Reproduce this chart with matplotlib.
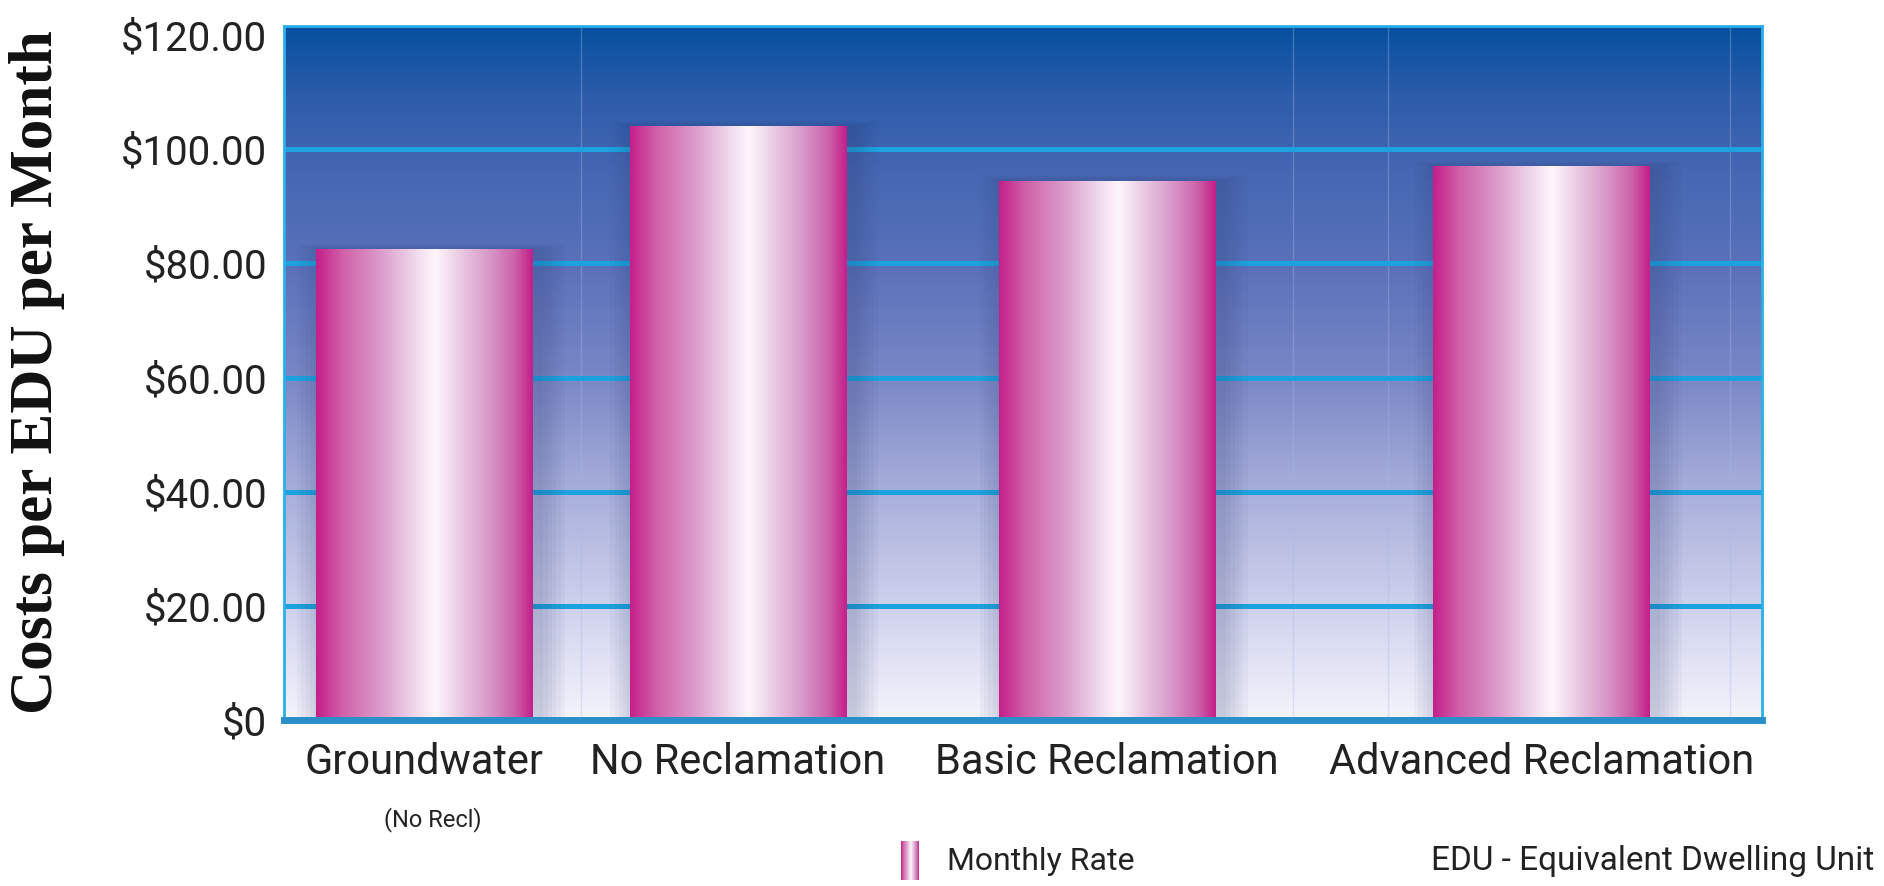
import numpy as np
import matplotlib
matplotlib.use("Agg")
import matplotlib.pyplot as plt
from matplotlib.colors import LinearSegmentedColormap
from matplotlib.patches import Rectangle

categories = ["Groundwater", "No Reclamation", "Basic Reclamation", "Advanced Reclamation"]
monthly_rate = [82.5, 104.0, 94.5, 97.0]
y_ticks = [0, 20, 40, 60, 80, 100, 120]
y_tick_labels = ["$0", "$20.00", "$40.00", "$60.00", "$80.00", "$100.00", "$120.00"]

# layout (bar centres are not evenly spaced in the original)
positions = [0.65, 2.10, 3.81, 5.82]
bar_width = 1.0

sans = ["Roboto", "DejaVu Sans"]
serif = ["Liberation Serif", "DejaVu Serif"]

bg_cmap = LinearSegmentedColormap.from_list("bg", [
    (0.0, "#f4f4fc"), (0.15, "#d2d4ee"), (0.35, "#a2aad8"), (0.5, "#7886c6"),
    (0.65, "#5a72ba"), (0.8, "#4466b2"), (0.9, "#2c5caa"), (1.0, "#0650a0")])
bar_cmap = LinearSegmentedColormap.from_list("bar", [
    (0.0, "#c41f8a"), (0.12, "#d060a8"), (0.3, "#dc9ccb"), (0.45, "#eed6ea"),
    (0.55, "#fff6fd"), (0.65, "#ecd0e6"), (0.8, "#d898c8"), (0.92, "#cc60a8"),
    (1.0, "#c41f8a")])

fig = plt.figure(figsize=(18.84, 8.86), dpi=100)
ax = fig.add_axes([0.1507, 0.1874, 0.7845, 0.7833])
xmin, xmax = 0, 6.84
ymin, ymax = 0, 121.6
ax.set_xlim(xmin, xmax)
ax.set_ylim(ymin, ymax)

# background gradient
grad = np.linspace(0, 1, 256).reshape(-1, 1)
ax.imshow(grad, cmap=bg_cmap, aspect="auto", origin="lower",
          extent=[xmin, xmax, ymin, ymax], zorder=0)

# faint vertical lines
for xv in [1.375, 4.67, 5.11, 6.69]:
    ax.axvline(xv, color="#a8b8e8", lw=1, alpha=0.35, zorder=1)

# gridlines
for yv in y_ticks[1:-1]:
    ax.axhline(yv, color="#1ca3df", lw=3.6, zorder=2)

bars = ax.bar(positions, monthly_rate, width=bar_width, color="none", zorder=4)

hgrad = np.linspace(0, 1, 256).reshape(1, -1)
for rect in bars:
    x0, w, h = rect.get_x(), rect.get_width(), rect.get_height()
    # soft shadow
    for k in range(1, 7):
        d = 0.02 * k
        ax.add_patch(Rectangle((x0 - d + 0.03, 0), w + 2 * d, h + d * 8,
                               facecolor="#303a70", edgecolor="none",
                               alpha=0.04, zorder=3))
    im = ax.imshow(hgrad, cmap=bar_cmap, aspect="auto",
                   extent=[x0, x0 + w, 0, h], zorder=5)
    im.set_clip_path(rect)

ax.set_xlim(xmin, xmax)
ax.set_ylim(ymin, ymax)

for s in ["left", "right", "top"]:
    ax.spines[s].set_color("#2ab0e8")
    ax.spines[s].set_linewidth(2)
ax.spines["bottom"].set_color("#2a8fc8")
ax.spines["bottom"].set_linewidth(5)
ax.spines["bottom"].set_zorder(6)

ax.set_yticks(y_ticks, y_tick_labels, fontfamily=sans, fontsize=29, color="#222222")
ax.set_xticks(positions, categories, fontfamily=sans, fontsize=30, color="#222222")
ax.tick_params(axis="y", length=0, pad=12)
ax.tick_params(axis="x", length=0, pad=16)

ax.text(positions[0] + 0.04, -17.5, "(No Recl)", ha="center", va="center",
        fontfamily=sans, fontsize=17, color="#222222")

fig.text(0.0196, 0.58, "Costs per EDU per Month", rotation=90, ha="center",
         va="center", fontfamily=serif, fontweight="bold", fontsize=44,
         color="#111111")

# legend swatch
sw = fig.add_axes([901 / 1884, 1 - 880 / 886, 18 / 1884, 39 / 886])
sw.imshow(hgrad, cmap=bar_cmap, aspect="auto")
sw.axis("off")
fig.text(947 / 1884, 1 - 861 / 886, "Monthly Rate", ha="left", va="center",
         fontfamily=sans, fontsize=23, color="#222222")
fig.text(1874 / 1884, 1 - 861 / 886, "EDU - Equivalent Dwelling Unit", ha="right",
         va="center", fontfamily=sans, fontsize=24, color="#222222")

fig.savefig("out.png", dpi=100)
